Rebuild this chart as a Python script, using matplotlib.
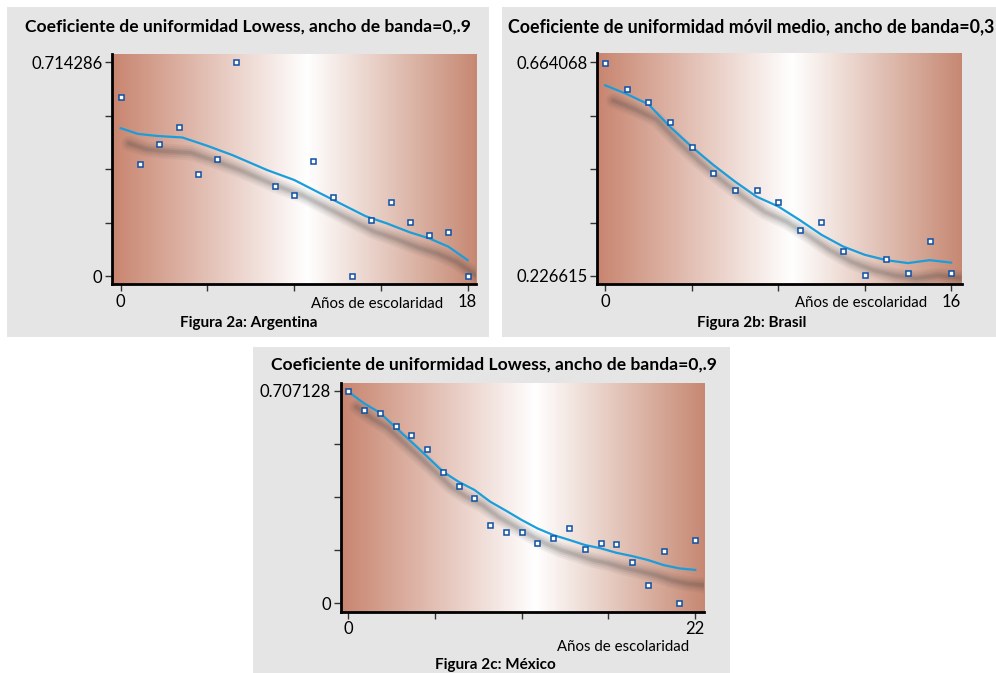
import numpy as np
import matplotlib
matplotlib.use("Agg")
import matplotlib.pyplot as plt
from matplotlib.patches import Rectangle
from matplotlib.transforms import ScaledTranslation

plt.rcParams['font.family'] = ['Lato', 'DejaVu Sans']

# ---------------- data ----------------
# Argentina
arg_x = [0, 1, 2, 3, 4, 5, 6, 8, 9, 10, 11, 12, 13, 14, 15, 16, 17, 18]
arg_y = [0.597, 0.373, 0.441, 0.498, 0.342, 0.390, 0.714286, 0.302, 0.272, 0.384,
         0.265, 0.0, 0.188, 0.248, 0.181, 0.136, 0.148, 0.0]
arg_fit_x = [0, 0.9, 1.9, 3.2, 4.5, 5.8, 7.6, 9.0, 10.3, 11.9, 12.7, 13.8, 15.0, 16.0, 17.0, 18.0]
arg_fit_y = [0.494, 0.475, 0.468, 0.463, 0.435, 0.404, 0.354, 0.321, 0.278, 0.226,
             0.200, 0.176, 0.146, 0.126, 0.098, 0.053]

# Brasil
bra_x = list(range(17))
bra_y = [0.663, 0.610, 0.583, 0.542, 0.491, 0.437, 0.403, 0.403, 0.378, 0.320,
         0.337, 0.278, 0.228, 0.261, 0.233, 0.299, 0.233]
bra_fit_x = list(range(17))
bra_fit_y = [0.617, 0.599, 0.578, 0.532, 0.491, 0.454, 0.420, 0.389, 0.369, 0.341,
             0.311, 0.287, 0.270, 0.259, 0.253, 0.259, 0.254]

# México
mex_x = list(range(23))
mex_y = [0.707128, 0.643, 0.634, 0.589, 0.560, 0.514, 0.437, 0.390, 0.349, 0.261,
         0.236, 0.238, 0.202, 0.218, 0.252, 0.182, 0.202, 0.198, 0.138, 0.062,
         0.175, 0.0, 0.212]
mex_fit_x = list(range(23))
mex_fit_y = [0.704, 0.665, 0.634, 0.585, 0.537, 0.488, 0.438, 0.404, 0.377, 0.338,
             0.308, 0.277, 0.249, 0.227, 0.211, 0.194, 0.183, 0.168, 0.157, 0.144,
             0.127, 0.116, 0.111]

titles = ["Coeficiente de uniformidad Lowess, ancho de banda=0,.9",
          "Coeficiente de uniformidad móvil medio, ancho de banda=0,3",
          "Coeficiente de uniformidad Lowess, ancho de banda=0,.9"]
captions = ["Figura 2a: Argentina", "Figura 2b: Brasil", "Figura 2c: México"]
xlabel = "Años de escolaridad"
x_max = [18, 16, 22]
y_min = [0.0, 0.226615, 0.0]
y_max = [0.714286, 0.664068, 0.707128]
y_labels = [["0", "0.714286"], ["0.226615", "0.664068"], ["0", "0.707128"]]

# ---------------- style ----------------
PANEL = '#e4e5e4'
EDGE_L = np.array([200, 133, 111]) / 255
EDGE_R = np.array([198, 136, 114]) / 255
PEAK = 0.535
LINE_C = '#1a9edb'
MK_C = '#0d4fa3'

fig = plt.figure(figsize=(9.96, 6.73), dpi=100)
W, H = 996, 673

def fig_rect(x0, y0, x1, y1):
    return [x0 / W, 1 - y1 / H, (x1 - x0) / W, (y1 - y0) / H]

# gray panels
for (x0, y0, x1, y1) in [(7, 7, 489, 337), (502, 7, 996, 337), (253, 347, 730, 673)]:
    r = fig_rect(x0, y0, x1, y1)
    fig.patches.append(Rectangle((r[0], r[1]), r[2], r[3], transform=fig.transFigure,
                                 facecolor=PANEL, edgecolor='none', zorder=-10))

axes_px = [(112, 54, 476, 284), (597, 53, 962, 284), (340.7, 382.7, 704, 611.7)]
xlims = [(-0.45, 18.43), (-0.38, 16.5), (-0.48, 22.56)]
ylims = [(-0.0267, 0.742), (0.2102, 0.6831), (-0.028, 0.7336)]
data = [(arg_x, arg_y, arg_fit_x, arg_fit_y),
        (bra_x, bra_y, bra_fit_x, bra_fit_y),
        (mex_x, mex_y, mex_fit_x, mex_fit_y)]
xlab_pos = [(0.909, -0.087), (0.905, -0.083), (0.959, -0.153)]

# gradient image
t = np.linspace(0, 1, 600)
grad = np.zeros((1, t.size, 3))
for i, tv in enumerate(t):
    if tv <= PEAK:
        w = tv / PEAK
        c = EDGE_L * (1 - w) + np.ones(3) * w
    else:
        w = (1 - tv) / (1 - PEAK)
        c = EDGE_R * (1 - w) + np.ones(3) * w
    grad[0, i] = c

for k in range(3):
    ax = fig.add_axes(fig_rect(*axes_px[k]))
    ax.set_facecolor('none')
    ax.imshow(grad, aspect='auto', extent=[0, 1, 0, 1], transform=ax.transAxes,
              zorder=0, interpolation='bilinear')
    xs, ys, fx, fy = data[k]
    # shadow
    sh = ax.transData + ScaledTranslation(6 / 72, -11 / 72, fig.dpi_scale_trans)
    for lw, a in [(11, 0.06), (8, 0.08), (5, 0.1), (2.5, 0.12)]:
        ax.plot(fx, fy, color='#3a3a3a', lw=lw, alpha=a, transform=sh,
                solid_capstyle='round', zorder=1)
    ax.plot(fx, fy, color=LINE_C, lw=1.6, zorder=3)
    ax.plot(xs, ys, linestyle='none', marker='s', ms=3.6, mfc='white', mec=MK_C,
            mew=1.1, zorder=4)
    ax.set_xlim(*xlims[k])
    ax.set_ylim(*ylims[k])
    ax.set_xticks(np.linspace(0, x_max[k], 5))
    ax.set_xticklabels(["0", "", "", "", str(x_max[k])])
    ax.set_yticks(np.linspace(y_min[k], y_max[k], 5))
    ax.set_yticklabels([y_labels[k][0], "", "", "", y_labels[k][1]])
    ax.tick_params(axis='both', direction='out', length=5, width=1, color='#333333',
                   labelsize=12, pad=2)
    for s in ['top', 'right']:
        ax.spines[s].set_visible(False)
    for s in ['left', 'bottom']:
        ax.spines[s].set_linewidth(2.0)
        ax.spines[s].set_color('black')
    ax.text(xlab_pos[k][0], xlab_pos[k][1], xlabel, transform=ax.transAxes,
            ha='right', va='center', fontsize=10.8)

fig.text(248 / W, 1 - 27 / H, titles[0], ha='center', va='center', fontsize=12.6,
         fontweight='bold')
fig.text(508 / W, 1 - 27 / H, titles[1], ha='left', va='center', fontsize=12.8,
         fontweight='bold')
fig.text(494 / W, 1 - 365 / H, titles[2], ha='center', va='center', fontsize=12.6,
         fontweight='bold')
fig.text(249 / W, 1 - 323 / H, captions[0], ha='center', va='center', fontsize=11,
         fontweight='bold')
fig.text(752 / W, 1 - 323 / H, captions[1], ha='center', va='center', fontsize=11,
         fontweight='bold')
fig.text(495.7 / W, 1 - 665 / H, captions[2], ha='center', va='center', fontsize=11,
         fontweight='bold')

fig.savefig('out.png', dpi=100)
